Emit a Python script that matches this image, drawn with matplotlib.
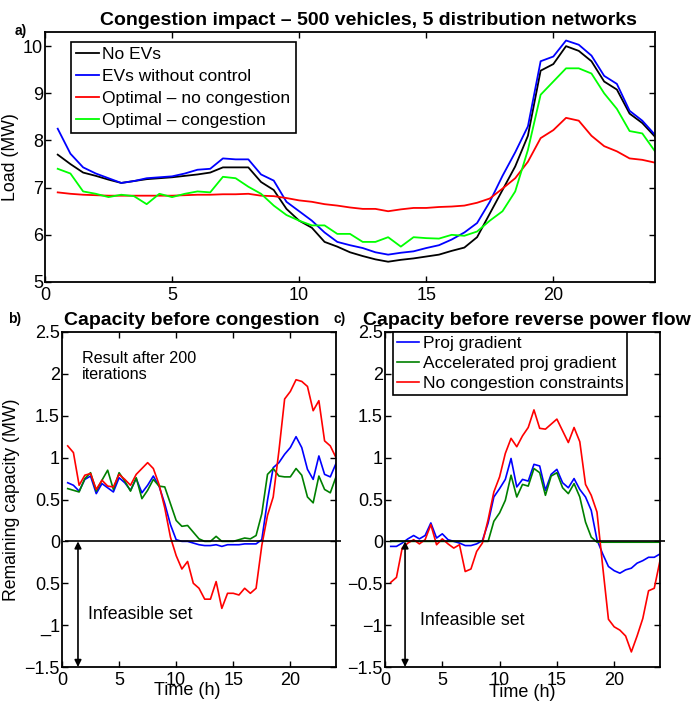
import numpy as np
import matplotlib
matplotlib.use("Agg")
from matplotlib import pyplot as plt

plt.rcParams['font.family'] = ['Liberation Sans', 'DejaVu Sans']

# half-hour time steps
t = np.arange(1, 49) * 0.5

# a) total load (MW)
no_ev = [7.7, 7.5, 7.32, 7.25, 7.17, 7.1, 7.14, 7.18, 7.2, 7.22, 7.25, 7.28,
         7.32, 7.43, 7.43, 7.43, 7.12, 6.95, 6.55, 6.3, 6.15, 5.85, 5.75, 5.63,
         5.55, 5.48, 5.43, 5.47, 5.5, 5.54, 5.58, 5.66, 5.73, 5.95, 6.45, 6.95,
         7.45, 8.1, 9.48, 9.62, 10.0, 9.9, 9.68, 9.25, 9.08, 8.57, 8.37, 8.08]
ev_noctrl = [8.25, 7.72, 7.43, 7.3, 7.2, 7.1, 7.14, 7.2, 7.22, 7.24, 7.3, 7.38,
             7.4, 7.62, 7.6, 7.6, 7.28, 7.15, 6.7, 6.5, 6.3, 6.05, 5.85, 5.78,
             5.72, 5.63, 5.58, 5.62, 5.65, 5.72, 5.78, 5.9, 6.05, 6.25, 6.7, 7.25,
             7.75, 8.3, 9.68, 9.78, 10.12, 10.03, 9.8, 9.37, 9.2, 8.63, 8.42, 8.12]
opt_nocong = [6.9, 6.87, 6.85, 6.84, 6.83, 6.83, 6.83, 6.83, 6.83, 6.83, 6.84, 6.85,
              6.85, 6.86, 6.86, 6.87, 6.83, 6.82, 6.78, 6.73, 6.7, 6.65, 6.62, 6.58,
              6.55, 6.55, 6.5, 6.54, 6.57, 6.57, 6.59, 6.6, 6.62, 6.68, 6.77, 6.98,
              7.2, 7.55, 8.05, 8.22, 8.48, 8.42, 8.1, 7.88, 7.77, 7.62, 7.59, 7.53]
opt_cong = [7.4, 7.3, 6.92, 6.87, 6.8, 6.85, 6.82, 6.65, 6.87, 6.8, 6.87, 6.92,
            6.9, 7.23, 7.2, 7.02, 6.87, 6.62, 6.42, 6.3, 6.2, 6.2, 6.02, 6.02,
            5.85, 5.85, 5.95, 5.75, 5.95, 5.93, 5.92, 6.0, 5.98, 6.07, 6.3, 6.5,
            6.92, 7.8, 8.97, 9.25, 9.53, 9.53, 9.42, 9.0, 8.67, 8.2, 8.15, 7.77]

# b) remaining capacity before congestion (MW)
b_proj = [0.7, 0.67, 0.6, 0.74, 0.78, 0.57, 0.69, 0.64, 0.59, 0.76, 0.7, 0.61,
          0.75, 0.58, 0.67, 0.78, 0.66, 0.45, 0.2, 0.02, 0.0, 0.0, -0.02, -0.04,
          -0.05, -0.05, -0.04, -0.06, -0.04, -0.04, -0.04, -0.03, -0.03, -0.03, 0.02, 0.49,
          0.88, 0.94, 1.04, 1.12, 1.25, 1.12, 0.86, 0.74, 1.02, 0.8, 0.77, 0.93]
b_accel = [0.63, 0.61, 0.59, 0.75, 0.82, 0.6, 0.73, 0.85, 0.62, 0.82, 0.72, 0.6,
           0.76, 0.51, 0.61, 0.74, 0.66, 0.65, 0.45, 0.25, 0.18, 0.19, 0.11, 0.03,
           0.0, 0.0, 0.06, 0.0, 0.0, 0.0, 0.02, 0.04, 0.03, 0.07, 0.33, 0.8,
           0.87, 0.78, 0.77, 0.77, 0.87, 0.79, 0.53, 0.46, 0.78, 0.62, 0.58, 0.77]
b_nocons = [1.14, 1.06, 0.67, 0.79, 0.81, 0.62, 0.73, 0.66, 0.65, 0.8, 0.74, 0.67,
            0.8, 0.87, 0.94, 0.87, 0.68, 0.4, 0.05, -0.17, -0.33, -0.24, -0.5, -0.56,
            -0.69, -0.69, -0.48, -0.8, -0.62, -0.62, -0.64, -0.56, -0.62, -0.56, -0.05, 0.31,
            0.53, 1.08, 1.7, 1.79, 1.93, 1.91, 1.85, 1.56, 1.68, 1.2, 1.14, 1.0]

# c) remaining capacity before reverse power flow (MW)
c_proj = [-0.06, -0.06, -0.02, 0.03, 0.07, 0.03, 0.07, 0.22, 0.04, 0.09, 0.02, 0.0,
          -0.02, -0.05, -0.05, -0.03, 0.01, 0.22, 0.53, 0.63, 0.74, 0.99, 0.65, 0.74,
          0.72, 0.92, 0.9, 0.61, 0.8, 0.86, 0.7, 0.64, 0.75, 0.62, 0.53, 0.37,
          0.02, -0.15, -0.3, -0.35, -0.38, -0.34, -0.32, -0.26, -0.23, -0.19, -0.19, -0.15]
c_accel = [0.0, 0.0, 0.0, 0.0, 0.0, 0.0, 0.0, 0.0, 0.0, 0.0, 0.0, 0.0,
           0.0, 0.0, 0.0, 0.0, 0.0, 0.0, 0.24, 0.34, 0.49, 0.79, 0.53, 0.68,
           0.66, 0.87, 0.82, 0.55, 0.78, 0.82, 0.64, 0.57, 0.69, 0.53, 0.23, 0.05,
           -0.01, -0.01, -0.01, -0.01, -0.01, -0.01, -0.01, -0.01, -0.01, -0.01, -0.01, -0.01]
c_nocons = [-0.49, -0.43, -0.08, -0.02, 0.02, -0.03, 0.02, 0.2, -0.04, 0.03, -0.03, -0.08,
            -0.04, -0.36, -0.33, -0.12, -0.02, 0.26, 0.59, 0.77, 1.05, 1.23, 1.13, 1.26,
            1.36, 1.57, 1.35, 1.34, 1.4, 1.46, 1.32, 1.18, 1.36, 1.19, 0.68, 0.55,
            0.35, -0.3, -0.93, -1.02, -1.06, -1.13, -1.32, -1.13, -0.92, -0.59, -0.56, -0.23]

cap_ticks = [-1.5, -1, -0.5, 0, 0.5, 1, 1.5, 2, 2.5]
b_ticklabels = ['\u22121.5', '_1', '0.5', '0', '0.5', '1', '1.5', '2', '2.5']
c_ticklabels = ['\u22121.5', '\u22121', '\u22120.5', '0', '0.5', '1', '1.5', '2', '2.5']

W, H = 693, 705
fig = plt.figure(figsize=(W / 100, H / 100), dpi=100)


def box(l, r, t_, b):
    return [l / W, 1 - b / H, (r - l) / W, (b - t_) / H]


def style(ax):
    ax.tick_params(direction='in', top=True, right=True, labelsize=13,
                   length=4, width=1)
    ax.tick_params(axis='y', pad=1.5)
    for s in ax.spines.values():
        s.set_linewidth(1.3)


def frame(leg):
    leg.get_frame().set_edgecolor('k')
    leg.get_frame().set_linewidth(1.2)


# a) load
ax1 = fig.add_axes(box(45, 655, 32, 282))
ax1.plot(t, no_ev, color='k', lw=1.3, label='No EVs')
ax1.plot(t, ev_noctrl, color='b', lw=1.3, label='EVs without control')
ax1.plot(t, opt_nocong, color='r', lw=1.3, label='Optimal \u2013 no congestion')
ax1.plot(t, opt_cong, color='#00ff00', lw=1.3, label='Optimal \u2013 congestion')
ax1.set_xlim(0, 24)
ax1.set_ylim(5, 10.3)
ax1.set_xticks([0, 5, 10, 15, 20])
ax1.set_yticks([5, 6, 7, 8, 9, 10])
ax1.set_ylabel('Load (MW)', fontsize=12.7, labelpad=3)
ax1.set_title('Congestion impact \u2013 500 vehicles, 5 distribution networks',
              fontsize=14, fontweight='bold', x=0.53, pad=5)
style(ax1)
frame(ax1.legend(loc='upper left', bbox_to_anchor=(0.043, 0.96), borderaxespad=0,
                 fontsize=12.5, handlelength=1.3, handletextpad=0.2,
                 labelspacing=0.38, fancybox=False, framealpha=1,
                 borderpad=0.3))
fig.text(15 / W, 1 - 35 / H, 'a)', fontsize=10, fontweight='bold')

# b) capacity before congestion
ax2 = fig.add_axes(box(62, 336, 332, 667))
ax2.plot(t, b_proj, color='b', lw=1.2)
ax2.plot(t, b_accel, color='#008000', lw=1.2)
ax2.plot(t, b_nocons, color='r', lw=1.2)
ax2.hlines(0, 0.3, 24.4, color='k', lw=1.2, clip_on=False)
ax2.set_xlim(0, 24)
ax2.set_ylim(-1.5, 2.5)
ax2.set_xticks([0, 5, 10, 15, 20])
ax2.set_yticks(cap_ticks)
ax2.set_yticklabels(b_ticklabels)
ax2.set_xlabel('Time (h)', fontsize=13)
ax2.xaxis.set_label_coords(0.456, -0.045)
ax2.set_ylabel('Remaining capacity (MW)', fontsize=12.7, labelpad=3)
ax2.set_title('Capacity before congestion', fontsize=14, fontweight='bold',
              x=0.475, pad=5)
ax2.text(1.75, 2.27, 'Result after 200\niterations', fontsize=11.6, va='top',
         linespacing=1.05)
ax2.annotate('', xy=(1.4, -1.5), xytext=(1.4, 0),
             arrowprops=dict(arrowstyle='<|-|>', color='k', lw=1.2,
                             mutation_scale=10, shrinkA=0, shrinkB=0))
ax2.text(2.3, -0.87, 'Infeasible set', fontsize=12.8, va='center')
style(ax2)
fig.text(8 / W, 1 - 323 / H, 'b)', fontsize=10, fontweight='bold')

# c) capacity before reverse power flow
ax3 = fig.add_axes(box(385, 660, 332, 667))
ax3.plot(t, c_proj, color='b', lw=1.2, label='Proj gradient')
ax3.plot(t, c_accel, color='#008000', lw=1.2, label='Accelerated proj gradient')
ax3.plot(t, c_nocons, color='r', lw=1.2, label='No congestion constraints')
ax3.hlines(0, 0.4, 24.4, color='k', lw=1.2, clip_on=False)
ax3.set_xlim(0, 24)
ax3.set_ylim(-1.5, 2.5)
ax3.set_xticks([0, 5, 10, 15, 20])
ax3.set_yticks(cap_ticks)
ax3.set_yticklabels(c_ticklabels)
ax3.set_xlabel('Time (h)', fontsize=13)
ax3.xaxis.set_label_coords(0.5, -0.05)
ax3.set_title('Capacity before reverse power flow', fontsize=14,
              fontweight='bold', x=0.515, pad=5)
ax3.annotate('', xy=(1.75, -1.5), xytext=(1.75, 0),
             arrowprops=dict(arrowstyle='<|-|>', color='k', lw=1.2,
                             mutation_scale=10, shrinkA=0, shrinkB=0))
ax3.text(3.05, -0.94, 'Infeasible set', fontsize=12.8, va='center')
style(ax3)
frame(ax3.legend(loc='upper left', bbox_to_anchor=(0.03, 1.0), borderaxespad=0,
                 fontsize=12.5, handlelength=1.3, handletextpad=0.2,
                 labelspacing=0.3, fancybox=False, framealpha=1,
                 borderpad=0.2))
fig.text(333 / W, 1 - 323 / H, 'c)', fontsize=10, fontweight='bold')

fig.savefig('out.png', dpi=100)
